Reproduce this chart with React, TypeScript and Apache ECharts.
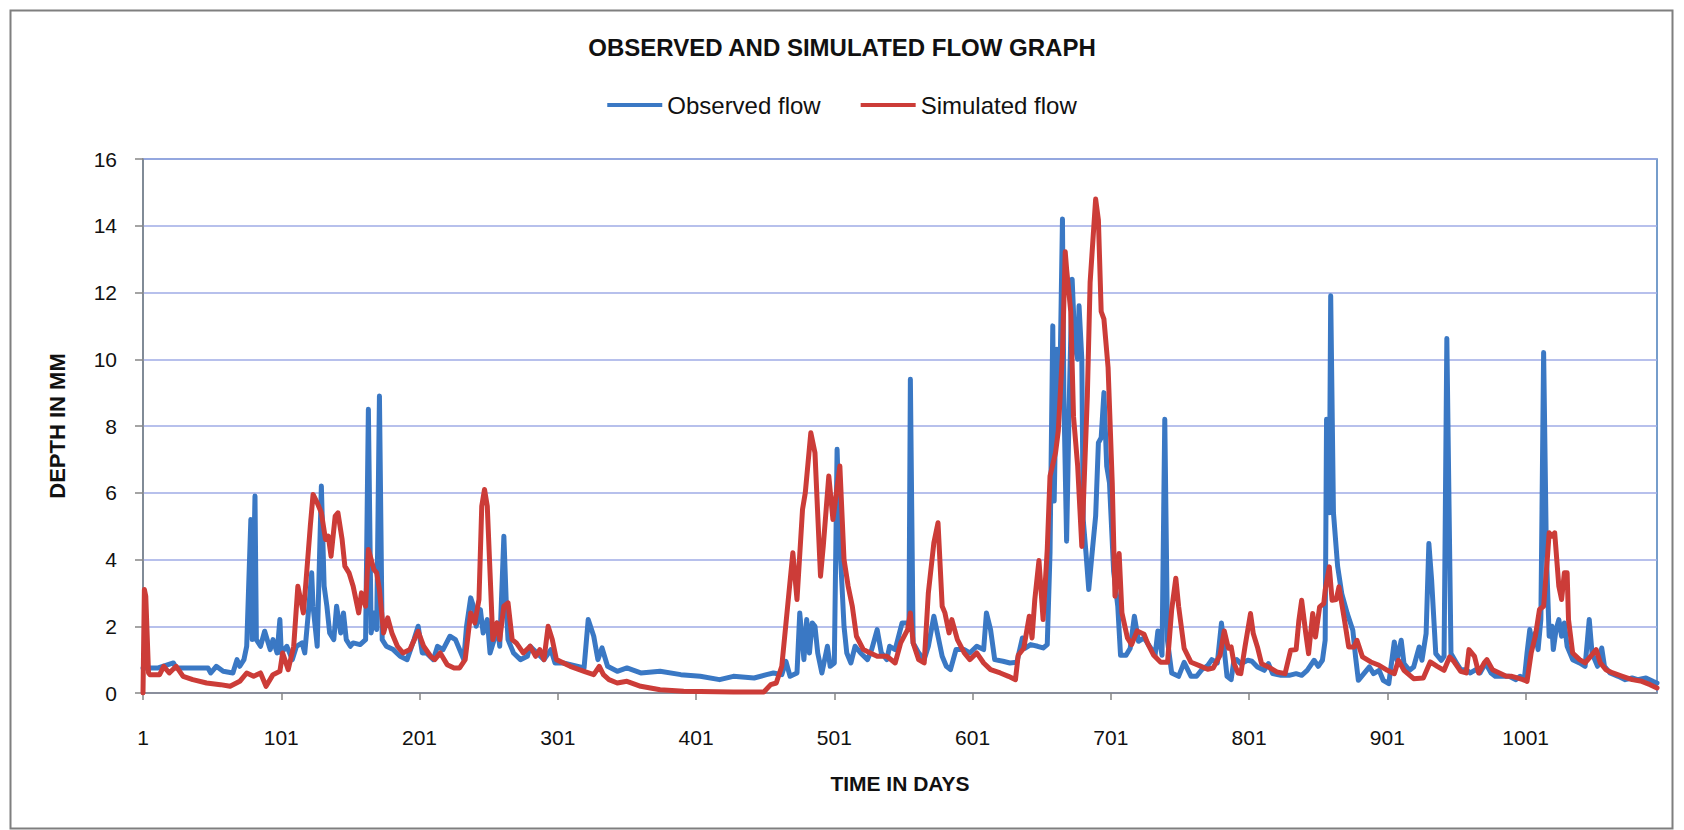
import React, { useEffect, useRef } from "react";
import * as echarts from "echarts";

const chartTitle = "OBSERVED AND SIMULATED FLOW GRAPH";
const xAxisTitle = "TIME IN DAYS";
const yAxisTitle = "DEPTH IN MM";
const seriesNames = ["Observed flow", "Simulated flow"];
const xTickDays = [1, 101, 201, 301, 401, 501, 601, 701, 801, 901, 1001];
const firstDay = 1;
const lastDay = 1096;
const yMin = 0;
const yMax = 16;
const yStep = 2;

// [day, depth in mm]
const observedFlow: [number, number][] = [
  [1,0.75],[5,0.75],[12,0.75],[23,0.9],[25,0.75],[35,0.75],[48,0.75],[50,0.6],[54,0.8],[59,0.65],[66,0.6],[69,1.0],[71,0.8],[74,1.0],[76,1.4],[79,5.2],[80,1.6],[82,5.9],[83,1.6],[86,1.4],[89,1.85],[93,1.3],[95,1.6],[98,1.2],[100,2.2],[101,1.2],[105,1.4],[109,1.0],[112,1.4],[116,1.5],[118,1.2],[121,2.6],[123,3.6],[124,2.6],[127,1.4],[130,6.2],[132,3.2],[134,2.6],[136,1.8],[139,1.6],[141,2.6],[144,1.8],[146,2.4],[148,1.6],[151,1.4],[153,1.5],[158,1.45],[162,1.6],[164,8.5],[166,1.8],[168,2.4],[170,1.9],[172,8.9],[174,1.6],[177,1.4],[182,1.3],[187,1.1],[192,1.0],[197,1.6],[200,2.0],[203,1.2],[206,1.2],[211,1.0],[214,1.4],[218,1.3],[223,1.7],[227,1.6],[230,1.3],[233,1.0],[235,2.0],[238,2.85],[240,2.6],[242,2.0],[245,2.5],[247,1.8],[250,2.2],[252,1.2],[255,1.6],[257,2.1],[259,1.4],[262,4.7],[264,2.4],[265,1.6],[269,1.2],[274,1.0],[279,1.1],[281,1.4],[286,1.2],[291,1.0],[296,1.3],[299,0.9],[305,0.9],[320,0.75],[323,2.2],[327,1.7],[330,1.0],[333,1.35],[337,0.8],[344,0.65],[351,0.75],[361,0.6],[375,0.65],[390,0.55],[404,0.5],[418,0.4],[428,0.5],[443,0.45],[452,0.55],[457,0.6],[463,0.55],[466,0.95],[469,0.5],[474,0.6],[476,2.4],[479,1.0],[481,2.2],[483,1.2],[485,2.1],[487,2.0],[489,1.2],[492,0.6],[496,1.4],[498,0.8],[501,0.9],[503,7.3],[505,4.5],[508,2.0],[510,1.2],[513,0.9],[516,1.4],[520,1.2],[525,1.0],[528,1.3],[532,1.9],[535,1.2],[539,1.0],[541,1.4],[545,1.3],[550,2.1],[555,2.1],[556,9.4],[558,1.5],[562,1.2],[566,1.0],[569,1.4],[573,2.3],[576,1.7],[579,1.1],[582,0.8],[585,0.7],[589,1.3],[595,1.3],[599,1.2],[604,1.4],[609,1.3],[611,2.4],[614,1.9],[617,1.0],[623,0.95],[628,0.9],[633,0.92],[637,1.65],[639,1.34],[643,1.45],[648,1.4],[652,1.35],[655,1.45],[657,4.2],[659,11.0],[660,5.75],[662,10.3],[664,8.9],[666,14.2],[667,8.9],[669,4.55],[671,8.9],[673,12.4],[675,10.4],[677,10.0],[678,11.6],[680,10.0],[681,5.2],[683,4.2],[685,3.1],[687,4.0],[690,5.3],[692,7.5],[694,7.65],[696,9.0],[698,6.8],[700,6.3],[703,3.65],[706,2.6],[708,1.13],[712,1.13],[715,1.34],[718,2.3],[721,1.55],[725,1.65],[730,1.34],[733,1.13],[735,1.86],[738,1.13],[740,8.2],[742,1.55],[745,0.6],[750,0.5],[754,0.92],[759,0.5],[763,0.5],[767,0.71],[771,0.82],[774,1.0],[778,0.9],[781,2.1],[785,0.5],[788,0.4],[790,0.98],[792,1.0],[795,0.88],[800,0.98],[803,0.95],[807,0.78],[812,0.68],[815,0.88],[818,0.58],[824,0.53],[830,0.53],[835,0.58],[839,0.53],[843,0.68],[848,0.98],[851,0.8],[854,0.98],[856,1.58],[857,8.2],[859,5.4],[860,11.9],[862,5.4],[865,3.8],[868,2.98],[872,2.38],[876,1.88],[878,1.08],[880,0.38],[884,0.58],[888,0.78],[891,0.58],[895,0.68],[898,0.38],[902,0.28],[906,1.53],[908,0.98],[911,1.58],[913,0.88],[917,0.68],[920,0.78],[924,1.38],[926,0.98],[929,1.78],[931,4.48],[933,3.38],[936,1.18],[940,0.98],[942,1.1],[944,10.62],[947,1.18],[951,0.9],[954,0.7],[958,0.7],[961,0.6],[965,0.7],[968,0.6],[972,0.9],[976,0.6],[979,0.5],[984,0.5],[989,0.5],[994,0.4],[997,0.5],[1000,0.4],[1002,1.2],[1004,1.9],[1006,1.4],[1008,1.8],[1010,1.3],[1012,2.2],[1014,10.2],[1016,4.2],[1018,1.7],[1020,2.0],[1021,1.3],[1023,1.9],[1025,2.2],[1027,1.7],[1029,2.1],[1031,1.4],[1035,1.0],[1040,0.9],[1044,0.8],[1047,2.2],[1049,1.2],[1053,0.8],[1056,1.35],[1058,0.8],[1062,0.6],[1068,0.5],[1073,0.4],[1078,0.45],[1082,0.4],[1088,0.45],[1093,0.35],[1096,0.3]
];

const simulatedFlow: [number, number][] = [
  [1,0],[2,3.1],[3,2.9],[5,0.6],[6,0.55],[13,0.55],[16,0.8],[20,0.6],[25,0.8],[30,0.5],[37,0.4],[47,0.3],[57,0.25],[64,0.2],[71,0.35],[76,0.6],[81,0.5],[86,0.6],[90,0.2],[95,0.55],[100,0.65],[102,1.2],[106,0.7],[110,1.4],[113,3.2],[117,2.4],[119,3.4],[122,5.0],[124,5.95],[127,5.7],[130,5.4],[133,4.6],[135,4.7],[137,4.1],[140,5.3],[142,5.4],[145,4.6],[147,3.8],[150,3.6],[153,3.2],[157,2.4],[159,3.0],[162,2.6],[164,4.3],[168,3.7],[170,3.6],[172,3.1],[175,1.8],[178,2.25],[181,1.8],[185,1.4],[189,1.2],[194,1.3],[200,1.85],[204,1.4],[209,1.1],[212,1.0],[216,1.2],[221,0.85],[226,0.75],[230,0.75],[234,1.0],[238,2.4],[241,2.1],[244,2.8],[246,5.6],[248,6.1],[250,5.6],[252,3.6],[254,1.6],[257,2.1],[259,1.6],[262,2.6],[265,2.7],[268,1.6],[271,1.5],[276,1.2],[281,1.4],[285,1.1],[288,1.3],[291,1.0],[294,2.0],[297,1.6],[300,1.0],[310,0.8],[320,0.65],[327,0.55],[331,0.8],[334,0.55],[338,0.4],[344,0.3],[351,0.35],[361,0.2],[375,0.1],[392,0.05],[428,0.03],[450,0.03],[455,0.25],[459,0.3],[463,0.8],[467,2.5],[471,4.2],[474,2.8],[478,5.5],[480,6.0],[484,7.8],[487,7.2],[491,3.5],[493,4.4],[497,6.5],[500,5.2],[505,6.8],[508,4.0],[511,3.2],[514,2.6],[517,1.7],[522,1.3],[527,1.2],[532,1.1],[539,1.1],[545,0.9],[549,1.5],[554,1.9],[556,2.4],[558,1.5],[562,1.0],[566,0.9],[569,3.0],[573,4.5],[576,5.1],[579,2.6],[581,2.4],[584,1.8],[586,2.2],[590,1.6],[595,1.2],[599,1.0],[604,1.2],[609,0.9],[614,0.7],[621,0.6],[627,0.5],[632,0.4],[634,1.13],[638,1.34],[642,2.3],[644,1.65],[646,2.8],[649,3.97],[652,2.2],[655,4.3],[657,6.5],[661,7.2],[663,7.86],[666,10.17],[668,13.22],[669,12.7],[672,11.43],[674,8.28],[677,6.8],[680,4.39],[681,5.54],[684,8.9],[686,12.3],[690,14.8],[692,14.17],[694,11.43],[696,11.2],[699,9.75],[702,6.3],[704,2.9],[707,4.18],[709,2.4],[713,1.65],[716,1.45],[720,1.86],[725,1.76],[728,1.45],[732,1.13],[737,0.92],[742,0.92],[745,2.5],[748,3.44],[750,2.6],[754,1.34],[759,0.92],[765,0.82],[771,0.71],[775,0.75],[780,1.13],[783,1.86],[786,1.34],[788,1.38],[790,0.9],[793,0.6],[795,0.58],[798,1.38],[802,2.38],[804,1.78],[807,1.38],[810,0.88],[815,0.78],[821,0.63],[827,0.58],[831,1.28],[835,1.3],[837,2.18],[839,2.78],[842,1.78],[844,1.18],[847,2.38],[849,1.68],[852,2.58],[855,2.68],[856,3.08],[859,3.78],[861,2.78],[864,2.8],[866,3.18],[870,2.18],[873,1.38],[877,1.38],[879,1.58],[883,1.08],[889,0.93],[895,0.83],[901,0.68],[906,0.58],[909,0.98],[913,0.68],[920,0.43],[927,0.45],[932,0.93],[937,0.8],[942,0.68],[946,1.08],[949,0.95],[954,0.65],[958,0.6],[960,1.3],[964,1.1],[967,0.6],[971,0.9],[973,1.0],[977,0.7],[982,0.6],[987,0.5],[991,0.5],[995,0.45],[999,0.4],[1002,0.35],[1005,1.2],[1008,1.7],[1011,2.5],[1014,2.6],[1017,4.2],[1018,4.8],[1020,4.7],[1022,4.8],[1025,3.2],[1027,2.8],[1029,3.6],[1031,3.6],[1032,2.2],[1035,1.2],[1040,1.0],[1044,0.9],[1048,1.1],[1052,1.3],[1055,0.9],[1059,0.7],[1064,0.6],[1071,0.5],[1078,0.4],[1085,0.35],[1091,0.25],[1096,0.15]
];

const FONT = "'Liberation Sans', Arial, sans-serif";
const OBS_COLOR = "#3a78c4";
const SIM_COLOR = "#cc3c38";

export default function App() {
  const ref = useRef<HTMLDivElement>(null);

  useEffect(() => {
    if (!ref.current) return;
    const chart = echarts.init(ref.current, null, { renderer: "svg" });
    chart.setOption({
      animation: false,
      backgroundColor: "#ffffff",
      title: {
        text: chartTitle,
        left: "center",
        top: 35,
        padding: [0, 0, 0, 8],
        textStyle: { fontFamily: FONT, fontSize: 24, fontWeight: "bold", color: "#111" },
      },
      legend: {
        data: seriesNames,
        left: "center",
        top: 93,
        padding: [0, 0, 0, 38],
        icon: "rect",
        itemWidth: 55,
        itemHeight: 4,
        itemGap: 40,
        textStyle: { fontFamily: FONT, fontSize: 24, color: "#111" },
      },
      grid: {
        left: 143,
        right: 27,
        top: 159,
        bottom: 137,
        show: true,
        borderColor: "#4a7ebb",
        borderWidth: 1.5,
        backgroundColor: "transparent",
      },
      xAxis: {
        type: "value",
        min: firstDay,
        max: lastDay,
        name: xAxisTitle,
        nameLocation: "middle",
        nameGap: 80,
        nameTextStyle: { fontFamily: FONT, fontSize: 21, fontWeight: "bold", color: "#111" },
        axisLine: { show: true, lineStyle: { color: "#868686", width: 1.5 } },
        axisTick: { show: true, length: 7, inside: false, customValues: xTickDays, lineStyle: { color: "#868686", width: 1.5 } },
        axisLabel: {
          customValues: xTickDays,
          margin: 34,
          fontFamily: FONT,
          fontSize: 21,
          color: "#111",
          formatter: (v: number) => String(v),
        },
        splitLine: { show: false },
      },
      yAxis: {
        type: "value",
        min: yMin,
        max: yMax,
        interval: yStep,
        name: yAxisTitle,
        nameLocation: "middle",
        nameRotate: 90,
        nameGap: 75,
        nameTextStyle: { fontFamily: FONT, fontSize: 22, fontWeight: "bold", color: "#111" },
        axisLine: { show: true, lineStyle: { color: "#868686", width: 1.5 } },
        axisTick: { show: true, length: 8, inside: false, lineStyle: { color: "#868686", width: 1.5 } },
        axisLabel: { margin: 26, fontFamily: FONT, fontSize: 21, color: "#111" },
        splitLine: { show: true, lineStyle: { color: "#9fabe6", width: 1.5 } },
      },
      series: [
        {
          name: seriesNames[0],
          type: "line",
          data: observedFlow,
          symbol: "none",
          showSymbol: false,
          lineStyle: { color: OBS_COLOR, width: 5, join: "round", cap: "round" },
          itemStyle: { color: OBS_COLOR },
          z: 2,
        },
        {
          name: seriesNames[1],
          type: "line",
          data: simulatedFlow,
          symbol: "none",
          showSymbol: false,
          lineStyle: { color: SIM_COLOR, width: 5, join: "round", cap: "round" },
          itemStyle: { color: SIM_COLOR },
          z: 3,
        },
      ],
      graphic: [
        {
          type: "rect",
          left: 8,
          top: 8,
          shape: { x: 0, y: 0, width: 1662, height: 818 },
          style: { fill: "none", stroke: "#7f7f7f", lineWidth: 2 },
          silent: true,
          z: 0,
        },
      ],
    });
    return () => chart.dispose();
  }, []);

  return (
    <div
      ref={ref}
      style={{ position: "fixed", left: 0, top: 0, width: 1684, height: 830, background: "#fff" }}
    />
  );
}
